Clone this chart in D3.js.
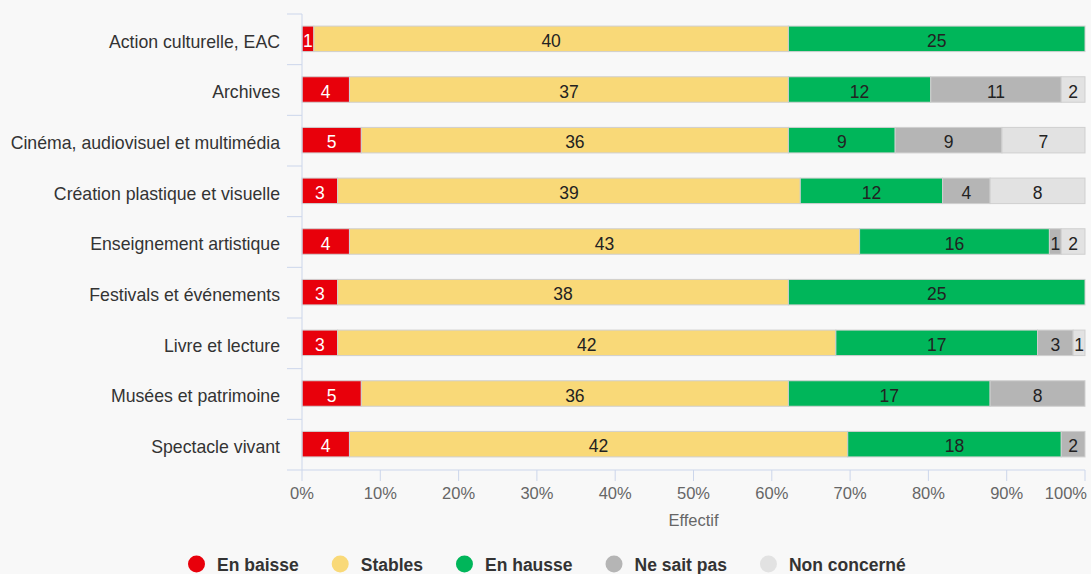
<!DOCTYPE html>
<html lang="fr">
<head>
<meta charset="utf-8">
<script src="https://cdn.jsdelivr.net/npm/d3@7"></script>
<style>
  html, body { margin: 0; padding: 0; background: #f8f8f8; }
  svg { display: block; font-family: "Liberation Sans", Arial, Helvetica, sans-serif; }
</style>
</head>
<body>
<svg id="chart" width="1091" height="574"></svg>
<script>
// Domaines culturels (axe des catégories)
const categories = [
  "Action culturelle, EAC",
  "Archives",
  "Cinéma, audiovisuel et multimédia",
  "Création plastique et visuelle",
  "Enseignement artistique",
  "Festivals et événements",
  "Livre et lecture",
  "Musées et patrimoine",
  "Spectacle vivant"
];

// Effectifs par réponse, dans l'ordre des catégories
const enBaisse    = [1, 4, 5, 3, 4, 3, 3, 5, 4];
const stables     = [40, 37, 36, 39, 43, 38, 42, 36, 42];
const enHausse    = [25, 12, 9, 12, 16, 25, 17, 17, 18];
const neSaitPas   = [0, 11, 9, 4, 1, 0, 3, 8, 2];
const nonConcerne = [0, 2, 7, 8, 2, 0, 1, 0, 0];

const seriesNames = ["En baisse", "Stables", "En hausse", "Ne sait pas", "Non concerné"];
const seriesColors = ["#e8000b", "#f9d978", "#00b65a", "#b5b5b5", "#e2e2e2"];
const seriesValues = [enBaisse, stables, enHausse, neSaitPas, nonConcerne];

const xTicks = [0, 0.1, 0.2, 0.3, 0.4, 0.5, 0.6, 0.7, 0.8, 0.9, 1];
const axisTitle = "Effectif";

const svg = d3.select("#chart");
const plot = { left: 302, right: 1085, top: 14, bottom: 470 };

// Table for d3.stack : one row per category, shares of the total
const rows = categories.map((c, i) => {
  const row = { category: c };
  seriesNames.forEach((s, j) => row[s] = seriesValues[j][i]);
  row.total = d3.sum(seriesValues, v => v[i]);
  return row;
});
const stacked = d3.stack()
  .keys(seriesNames)
  .value((d, key) => d[key] / d.total)(rows);

const x = d3.scaleLinear().domain([0, 1]).range([plot.left, plot.right]);
const y = d3.scaleBand().domain(categories).range([plot.top, plot.bottom]).paddingInner(0).paddingOuter(0);
const barH = 25.5;
const axisColor = "#ccd6eb";
const mid = c => y(c) + y.bandwidth() / 2 - 0.5;

// Bars
const gBars = svg.append("g");
stacked.forEach((layer, j) => {
  const g = gBars.append("g").attr("fill", seriesColors[j]);
  layer.forEach((d, i) => {
    const v = seriesValues[j][i];
    if (!v) return;
    const cy = mid(categories[i]);
    g.append("rect")
      .attr("x", x(d[0]))
      .attr("y", cy - barH / 2)
      .attr("width", x(d[1]) - x(d[0]))
      .attr("height", barH)
      .attr("stroke", "#cfcfcf")
      .attr("stroke-width", 1);
  });
});

// Data labels
const gLabels = svg.append("g")
  .attr("font-size", "17.5px")
  .attr("text-anchor", "middle");
stacked.forEach((layer, j) => {
  layer.forEach((d, i) => {
    const v = seriesValues[j][i];
    if (!v) return;
    const cy = mid(categories[i]);
    gLabels.append("text")
      .attr("x", (x(d[0]) + x(d[1])) / 2)
      .attr("y", cy + 2)
      .attr("dy", "0.36em")
      .attr("fill", j === 0 ? "#ffffff" : "#222222")
      .text(v);
  });
});

// Category axis
const gy = svg.append("g");
gy.append("line")
  .attr("x1", plot.left).attr("x2", plot.left)
  .attr("y1", plot.top).attr("y2", plot.bottom)
  .attr("stroke", axisColor);
const boundaries = categories.map(c => y(c)).concat([plot.bottom]);
gy.selectAll("line.tick").data(boundaries).join("line")
  .attr("class", "tick")
  .attr("x1", plot.left - 15).attr("x2", plot.left)
  .attr("y1", d => d).attr("y2", d => d)
  .attr("stroke", axisColor);
gy.selectAll("text").data(categories).join("text")
  .attr("x", plot.left - 22)
  .attr("y", d => mid(d) + 2.5)
  .attr("dy", "0.36em")
  .attr("text-anchor", "end")
  .attr("font-size", "17.7px")
  .attr("fill", "#333333")
  .text(d => d);

// Value axis
const gx = svg.append("g");
gx.append("line")
  .attr("x1", plot.left).attr("x2", plot.right)
  .attr("y1", plot.bottom).attr("y2", plot.bottom)
  .attr("stroke", axisColor);
gx.selectAll("line.tick").data(xTicks).join("line")
  .attr("class", "tick")
  .attr("x1", d => x(d)).attr("x2", d => x(d))
  .attr("y1", plot.bottom).attr("y2", plot.bottom + 11)
  .attr("stroke", axisColor);
const fmt = d3.format(".0%");
gx.selectAll("text").data(xTicks).join("text")
  .attr("x", (d, i) => i === xTicks.length - 1 ? x(d) + 2 : x(d))
  .attr("y", plot.bottom + 23)
  .attr("dy", "0.36em")
  .attr("text-anchor", (d, i) => i === xTicks.length - 1 ? "end" : "middle")
  .attr("font-size", "16.5px")
  .attr("fill", "#666666")
  .text(d => fmt(d));
svg.append("text")
  .attr("x", (plot.left + plot.right) / 2)
  .attr("y", plot.bottom + 50)
  .attr("dy", "0.36em")
  .attr("text-anchor", "middle")
  .attr("font-size", "16.5px")
  .attr("fill", "#666666")
  .text(axisTitle);

// Legend
const legend = svg.append("g").attr("font-size", "17.5px").attr("font-weight", "bold");
let lx = 188;
const ly = 564;
seriesNames.forEach((name, j) => {
  legend.append("circle")
    .attr("cx", lx + 8.5).attr("cy", ly).attr("r", 8.5)
    .attr("fill", seriesColors[j]);
  const t = legend.append("text")
    .attr("x", lx + 29).attr("y", ly + 1)
    .attr("dy", "0.36em")
    .attr("fill", "#333333")
    .text(name);
  lx += 29 + t.node().getComputedTextLength() + 33;
});
</script>
</body>
</html>
